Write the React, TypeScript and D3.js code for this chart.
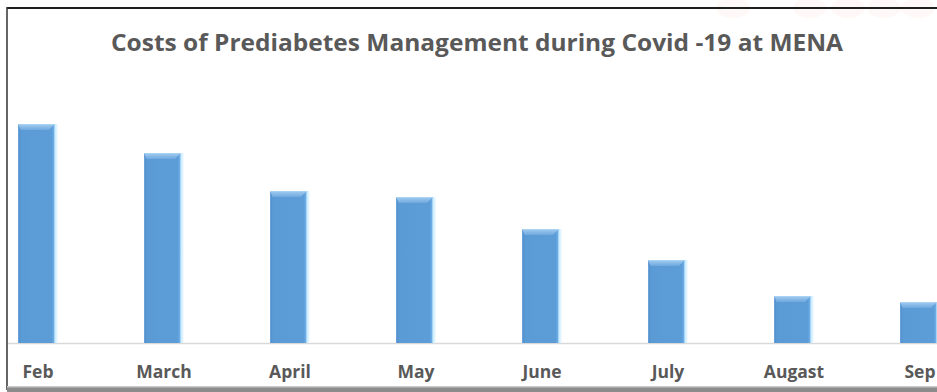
import React from "react";
import * as d3 from "d3";

const months = ["Feb", "March", "April", "May", "June", "July", "Augast", "Sep"];
const costs = [219, 190, 152, 146, 114, 83, 47, 41];
const titleText = "Costs of Prediabetes Management during Covid -19 at MENA";
const watermarkX = [733, 810, 848, 884, 918];

const W = 937;
const H = 392;
const baseY = 343;

export default function App() {
  const x = d3
    .scaleBand<string>()
    .domain(months)
    .range([-25, 983])
    .paddingInner(0.685)
    .paddingOuter(0.3425);
  const y = d3.scaleLinear().domain([0, 219]).range([baseY, 124]);
  const bw = x.bandwidth();

  return (
    <svg
      width={W}
      height={H}
      style={{ position: "absolute", left: 0, top: 0, background: "#fff" }}
      fontFamily="'Open Sans', 'Liberation Sans', sans-serif"
    >
      <defs>
        <linearGradient id="barGrad" x1="0" x2="1" y1="0" y2="0">
          <stop offset="0" stopColor="#4f8fcf" />
          <stop offset="0.08" stopColor="#5b9bd5" />
          <stop offset="0.84" stopColor="#5c9dd8" />
          <stop offset="0.89" stopColor="#6aaae3" />
          <stop offset="0.93" stopColor="#c9ecff" />
          <stop offset="1" stopColor="#f2fbff" />
        </linearGradient>
        <linearGradient id="topGrad" x1="0" x2="0" y1="0" y2="1">
          <stop offset="0" stopColor="#a3cdf1" />
          <stop offset="1" stopColor="#6fa8de" />
        </linearGradient>
      </defs>
      <rect x={0} y={0} width={W} height={H} fill="#fff" />
      {watermarkX.map((cx, i) => (
        <ellipse key={i} cx={cx} cy={8} rx={17} ry={10} fill="#fdf1ea" opacity={0.45} />
      ))}
      <text
        x={477}
        y={51}
        textAnchor="middle"
        fontSize={24}
        fontWeight="bold"
        fill="#595959"
        textLength={732}
        lengthAdjust="spacingAndGlyphs"
      >
        {titleText}
      </text>
      <line x1={8} x2={W} y1={baseY + 0.5} y2={baseY + 0.5} stroke="#d9d9d9" strokeWidth={1.5} />
      {months.map((m, i) => {
        const x0 = x(m)!;
        const yt = y(costs[i]);
        const h = baseY - yt;
        const bev = 6;
        return (
          <g key={m}>
            <rect x={x0} y={yt} width={bw} height={h} fill="url(#barGrad)" />
            <polygon
              points={`${x0},${yt} ${x0 + bw - 3},${yt} ${x0 + bw - 3 - bev},${yt + bev} ${x0 + bev * 0.4},${yt + bev}`}
              fill="url(#topGrad)"
            />
            <line x1={x0} x2={x0 + bw - 3} y1={yt + 0.5} y2={yt + 0.5} stroke="#a9d1f2" strokeWidth={1} />
          </g>
        );
      })}
      {months.map((m) => (
        <text
          key={m}
          x={x(m)! + bw / 2}
          y={378}
          textAnchor="middle"
          fontSize={17.5}
          fontWeight="bold"
          fill="#595959"
        >
          {m}
        </text>
      ))}
      <line x1={7} x2={W} y1={8} y2={8} stroke="#1f1f1f" strokeWidth={2} />
      <line x1={7} x2={7} y1={7} y2={390} stroke="#333" strokeWidth={1.5} />
      <rect x={7} y={387} width={W - 7} height={5} fill="#8c8c8c" />
      <rect x={7} y={386} width={W - 7} height={1.5} fill="#c8c8c8" />
    </svg>
  );
}
